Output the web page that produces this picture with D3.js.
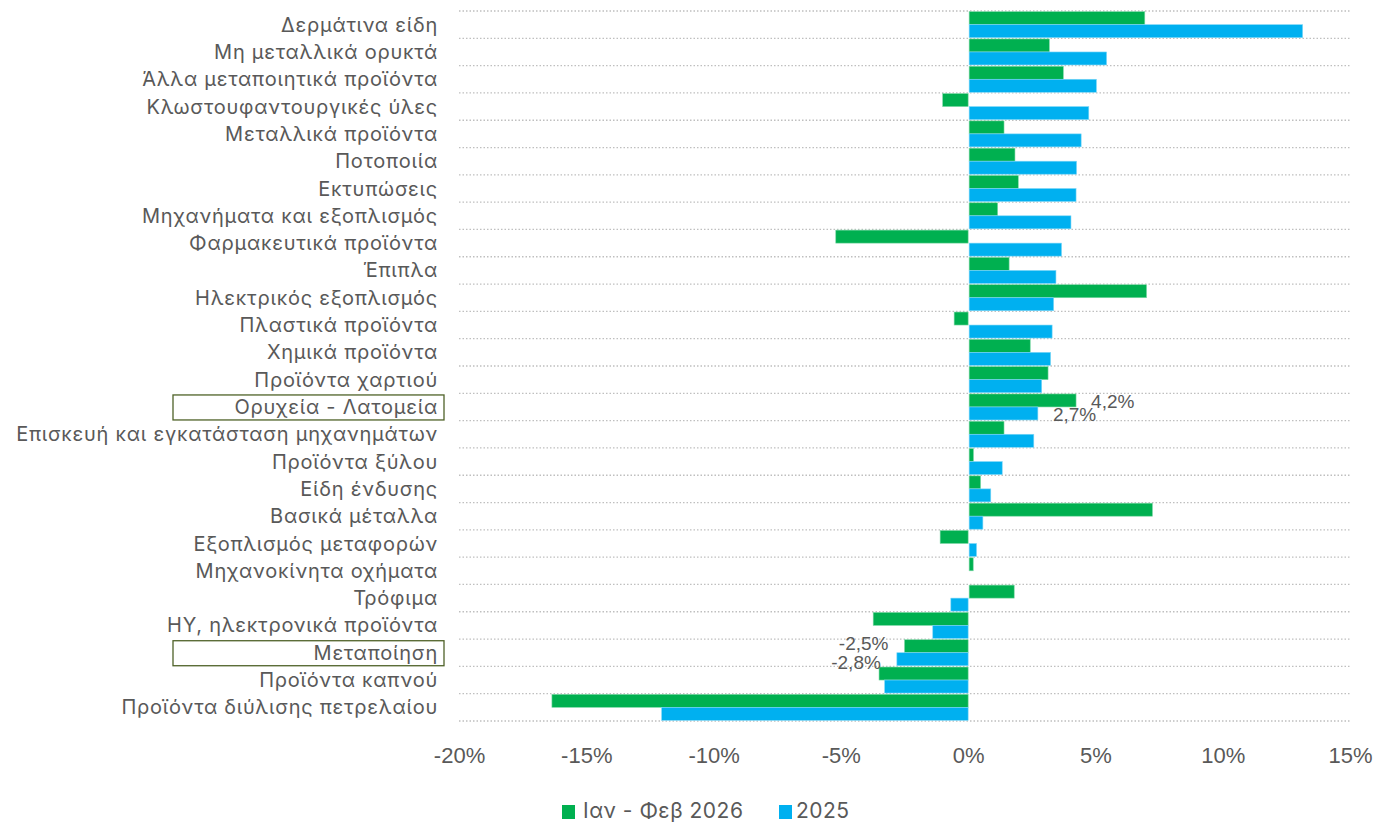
<!DOCTYPE html>
<head>
    <meta charset="utf-8">
    <style>
        body { margin: 0; background: #fff; }
        .grid line { stroke: #bfbfbf; stroke-width: 1.3; stroke-dasharray: 1.5 2; }
        .cat text { font-family: Inter, "Noto Sans", sans-serif; font-size: 20px; letter-spacing: 0.75px; fill: #595959; }
        .xaxis text { font-family: "Liberation Sans", Arial, sans-serif; font-size: 22px; fill: #595959; }
        .lbl { font-family: "Liberation Sans", Arial, sans-serif; font-size: 19px; fill: #595959; }
        .legend text { font-family: Inter, "Noto Sans", sans-serif; font-size: 21px; letter-spacing: 0.5px; fill: #595959; }
    </style>
</head>
<body>
    <svg width="1380" height="823"></svg>
    <script src="https://d3js.org/d3.v7.min.js"></script>
    <script>

    var categories = [
        "Δερμάτινα είδη", "Μη μεταλλικά ορυκτά", "Άλλα μεταποιητικά προϊόντα",
        "Κλωστουφαντουργικές ύλες", "Μεταλλικά προϊόντα", "Ποτοποιία", "Εκτυπώσεις",
        "Μηχανήματα και εξοπλισμός", "Φαρμακευτικά προϊόντα", "Έπιπλα",
        "Ηλεκτρικός εξοπλισμός", "Πλαστικά προϊόντα", "Χημικά προϊόντα",
        "Προϊόντα χαρτιού", "Ορυχεία - Λατομεία", "Επισκευή και εγκατάσταση μηχανημάτων",
        "Προϊόντα ξύλου", "Είδη ένδυσης", "Βασικά μέταλλα", "Εξοπλισμός μεταφορών",
        "Μηχανοκίνητα οχήματα", "Τρόφιμα", "ΗΥ, ηλεκτρονικά προϊόντα", "Μεταποίηση",
        "Προϊόντα καπνού", "Προϊόντα διύλισης πετρελαίου"
    ];

    var janFeb2026 = [6.9, 3.15, 3.7, -1.0, 1.37, 1.8, 1.93, 1.12, -5.2, 1.57,
        6.97, -0.55, 2.4, 3.1, 4.2, 1.37, 0.17, 0.45, 7.2, -1.1,
        0.16, 1.77, -3.73, -2.5, -3.5, -16.35];

    var year2025 = [13.1, 5.4, 5.0, 4.7, 4.4, 4.22, 4.2, 4.0, 3.63, 3.41,
        3.32, 3.26, 3.2, 2.85, 2.7, 2.54, 1.3, 0.85, 0.54, 0.29,
        0, -0.68, -1.39, -2.8, -3.28, -12.04];

    var seriesNames = ["Ιαν - Φεβ 2026", "2025"];
    var seriesColors = ["#00B050", "#00B0F0"];
    var xTicks = [-20, -15, -10, -5, 0, 5, 10, 15];
    var highlighted = ["Ορυχεία - Λατομεία", "Μεταποίηση"];

    var svg = d3.select("svg");

    var locale = d3.formatLocale({ decimal: ",", thousands: ".", grouping: [3], currency: ["", "€"], minus: "-" });
    var fmt = function(v) { return locale.format(".1f")(v) + "%"; };

    var x = d3.scaleLinear().domain([-20, 15]).range([459, 1350]);
    var y = d3.scaleBand().domain(categories).range([11, 721]);
    var ySub = d3.scaleBand().domain([0, 1]).range([0, y.bandwidth()]).paddingOuter(0.05);

    var rows = categories.map(function(c, i) {
        return { cat: c, vals: [janFeb2026[i], year2025[i]] };
    });

    // dotted gridlines between categories
    var bounds = categories.map(function(c) { return y(c); }).concat([y.range()[1]]);
    svg.append("g").attr("class", "grid")
        .selectAll("line").data(bounds).enter().append("line")
        .attr("x1", x(-20)).attr("x2", x(15))
        .attr("y1", function(d) { return d; }).attr("y2", function(d) { return d; });

    // bars
    var row = svg.append("g").selectAll("g").data(rows).enter().append("g")
        .attr("transform", function(d) { return "translate(0," + y(d.cat) + ")"; });

    row.selectAll("rect")
        .data(function(d) { return d.vals.map(function(v, k) { return { v: v, k: k }; }); })
        .enter().append("rect")
        .attr("x", function(d) { return d.v >= 0 ? x(0) + 1 : x(d.v); })
        .attr("width", function(d) { return Math.abs(x(d.v) - x(0)); })
        .attr("y", function(d) { return ySub(d.k); })
        .attr("height", ySub.bandwidth())
        .attr("fill", function(d) { return seriesColors[d.k]; })
        .attr("stroke", function(d) { return d.k == 0 ? "#7fd8a7" : "#7fd7f7"; })
        .attr("stroke-width", function(d) { return d.v == 0 ? 0 : 0.6; });

    // value labels for highlighted rows
    rows.filter(function(d) { return highlighted.indexOf(d.cat) >= 0; }).forEach(function(d) {
        d.vals.forEach(function(v, k) {
            var neg = v < 0;
            svg.append("text").attr("class", "lbl")
                .attr("x", x(v) + (neg ? -16 : 16))
                .attr("y", y(d.cat) + ySub(k) + ySub.bandwidth() / 2 + (neg ? (k == 0 ? -3 : 3) : 1))
                .attr("dy", "0.35em")
                .attr("text-anchor", neg ? "end" : "start")
                .text(fmt(v));
        });
    });

    // category labels
    var cat = svg.append("g").attr("class", "cat");
    cat.selectAll("rect").data(highlighted).enter().append("rect")
        .attr("x", 173).attr("width", 271)
        .attr("y", function(d) { return y(d) + y.bandwidth() / 2 - 12; })
        .attr("height", 25)
        .attr("fill", "none").attr("stroke", "#4F6228").attr("stroke-width", 1.3);
    cat.selectAll("text").data(categories).enter().append("text")
        .attr("x", 438)
        .attr("y", function(d) { return y(d) + y.bandwidth() / 2; })
        .attr("dy", "0.35em")
        .attr("text-anchor", "end")
        .text(function(d) { return d; });

    // x axis
    var xAxis = svg.append("g").attr("class", "xaxis")
        .attr("transform", "translate(0,735)")
        .call(d3.axisBottom(x).tickValues(xTicks).tickSize(0).tickPadding(12)
            .tickFormat(function(d) { return d + "%"; }));
    xAxis.select(".domain").remove();

    // legend
    var legend = svg.append("g").attr("class", "legend");
    var lx = [562, 779], tx = [583, 796];
    seriesNames.forEach(function(n, i) {
        legend.append("rect").attr("x", lx[i]).attr("y", 805).attr("width", 13).attr("height", 14)
            .attr("fill", seriesColors[i]);
        legend.append("text").attr("x", tx[i]).attr("y", 811).attr("dy", "0.35em").text(n);
    });
    </script>
</body>
